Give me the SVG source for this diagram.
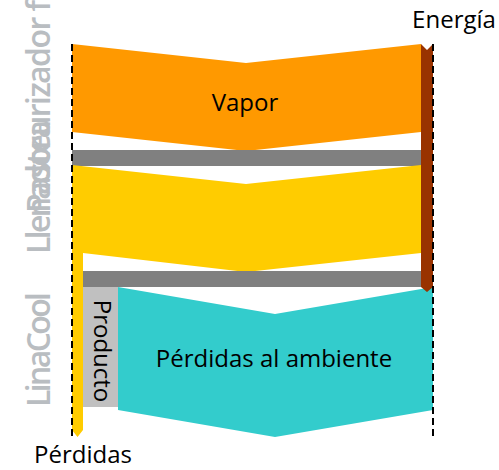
<svg xmlns="http://www.w3.org/2000/svg" width="499" height="470" viewBox="0 0 499 470">
<style>
.lbl{font-family:"Open Sans","Liberation Sans",sans-serif;fill:#000;font-size:24px;}
.side{font-family:"Open Sans","Liberation Sans",sans-serif;fill:#B9BDC1;font-size:32px;font-weight:600;}
.dash{stroke:#000;stroke-width:2;stroke-dasharray:7 4;fill:none;}
</style>
<rect width="499" height="470" fill="#fff"/>
<g id="side-labels">
<text class="side" transform="translate(50,213) rotate(-90)" textLength="213">Pasteurizador f</text>
<text class="side" transform="translate(50,254) rotate(-90)" textLength="134">Llenadora</text>
<text class="side" transform="translate(50,407) rotate(-90)" textLength="115">LinaCool</text>
</g>
<g id="vapor">
<polygon points="72,44 246,63 421,44 421,132 246,151 72,132" fill="#FF9900"/>
<text class="lbl" x="245" y="111" text-anchor="middle">Vapor</text>
</g>
<g id="gris1"><rect x="72" y="150" width="349" height="16" fill="#808080"/></g>
<g id="amarillo">
<polygon points="72,165 246,184 421,165 421,253 246,272 83,253 83,430 77.5,437 72,430" fill="#FFCC00"/>
</g>
<g id="gris2"><rect x="83" y="271" width="338" height="16" fill="#808080"/></g>
<g id="producto">
<rect x="83" y="287" width="35" height="120" fill="#C0C0C0"/>
<text class="lbl" text-anchor="middle" transform="translate(94,351) rotate(90)">Producto</text>
</g>
<g id="ambiente">
<polygon points="118,287 275,314 433,287 433,410 275,437 118,410" fill="#33CCCC"/>
<text class="lbl" x="274" y="367" text-anchor="middle">Pérdidas al ambiente</text>
</g>
<g id="energia">
<polygon points="421,44 427,50 433,44 433,287 427,292 421,287" fill="#993300"/>
<text class="lbl" x="454" y="28" text-anchor="middle">Energía</text>
</g>
<g id="perdidas">
<text class="lbl" x="83" y="463" text-anchor="middle">Pérdidas</text>
</g>
<g id="connectors">
<line class="dash" x1="72" y1="44" x2="72" y2="437"/>
<line class="dash" x1="433" y1="44" x2="433" y2="437"/>
</g>
</svg>
